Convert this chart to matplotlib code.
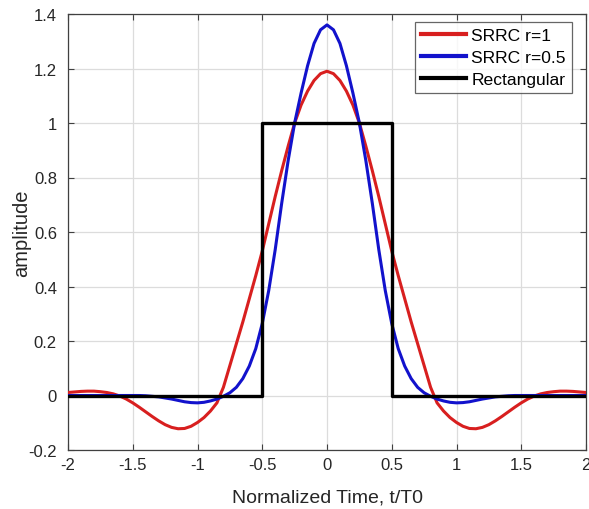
import numpy as np
import matplotlib
matplotlib.use("Agg")
import matplotlib.pyplot as plt
from matplotlib.ticker import FuncFormatter

plt.rcParams['font.family'] = ['Liberation Sans', 'DejaVu Sans']

# time grid, step 0.05 from -2 to 2
t = np.linspace(-2, 2, 81)

srrc_r1 = [
    0.011, 0.013, 0.015, 0.016, 0.016, 0.014, 0.011, 0.006, -0.002, -0.013,
    -0.027, -0.043, -0.060, -0.077, -0.093, -0.107, -0.117, -0.122, -0.121, -0.113,
    -0.099, -0.081, -0.057, -0.027, 0.030, 0.110, 0.190, 0.270, 0.355, 0.440,
    0.530, 0.630, 0.730, 0.825, 0.915, 1.000, 1.066, 1.117, 1.156, 1.181,
    1.190,
    1.181, 1.156, 1.117, 1.066, 1.000, 0.915, 0.825, 0.730, 0.630, 0.530,
    0.440, 0.355, 0.270, 0.190, 0.110, 0.030, -0.027, -0.057, -0.081, -0.099,
    -0.113, -0.121, -0.122, -0.117, -0.107, -0.093, -0.077, -0.060, -0.043, -0.027,
    -0.013, -0.002, 0.006, 0.011, 0.014, 0.016, 0.016, 0.015, 0.013, 0.011,
]

srrc_r05 = [
    0.000, 0.000, 0.000, 0.000, 0.000, 0.000, 0.000, 0.000, 0.000, 0.000,
    0.000, 0.000, -0.001, -0.003, -0.005, -0.009, -0.013, -0.018, -0.023, -0.026,
    -0.027, -0.025, -0.020, -0.013, -0.003, 0.010, 0.030, 0.062, 0.108, 0.172,
    0.264, 0.385, 0.535, 0.705, 0.862, 1.000, 1.110, 1.210, 1.292, 1.342,
    1.360,
    1.342, 1.292, 1.210, 1.110, 1.000, 0.862, 0.705, 0.535, 0.385, 0.264,
    0.172, 0.108, 0.062, 0.030, 0.010, -0.003, -0.013, -0.020, -0.025, -0.027,
    -0.026, -0.023, -0.018, -0.013, -0.009, -0.005, -0.003, -0.001, 0.000, 0.000,
    0.000, 0.000, 0.000, 0.000, 0.000, 0.000, 0.000, 0.000, 0.000, 0.000,
]

rect_t = [-2, -0.5, -0.5, 0.5, 0.5, 2]
rect_v = [0, 0, 1, 1, 0, 0]

labels = ['SRRC r=1', 'SRRC r=0.5', 'Rectangular']
xticks = [-2, -1.5, -1, -0.5, 0, 0.5, 1, 1.5, 2]
yticks = [-0.2, 0, 0.2, 0.4, 0.6, 0.8, 1, 1.2, 1.4]

fig = plt.figure(figsize=(5.89, 5.10), dpi=100)
ax = fig.add_axes([68/589, 59/510, (586-68)/589, (451-15)/510])

ax.plot(t, srrc_r1, color='#d81f1f', lw=2.2, label=labels[0], zorder=3,
        solid_joinstyle='round')
ax.plot(t, srrc_r05, color='#1212cc', lw=2.2, label=labels[1], zorder=4,
        solid_joinstyle='round')
ax.plot(rect_t, rect_v, color='black', lw=2.4, label=labels[2], zorder=5)

ax.set_xlim(-2, 2)
ax.set_ylim(-0.2, 1.4)
ax.set_xticks(xticks)
ax.set_yticks(yticks)
fmt = FuncFormatter(lambda v, p: '%g' % round(v, 2))
ax.xaxis.set_major_formatter(fmt)
ax.yaxis.set_major_formatter(fmt)

ax.grid(True, color='#dcdcdc', lw=0.9)
ax.set_axisbelow(True)
ax.tick_params(direction='in', top=True, right=True, length=4, width=0.8,
               colors='#404040', labelcolor='#262626', labelsize=12)
ax.tick_params(axis='y', pad=8)
ax.tick_params(axis='x', pad=5)
for s in ax.spines.values():
    s.set_color('#404040')
    s.set_linewidth(0.9)

ax.set_xlabel('Normalized Time, t/T0', fontsize=14, color='#262626', labelpad=12)
ax.set_ylabel('amplitude', fontsize=14.5, color='#262626', labelpad=-2)

leg = ax.legend(loc='upper right', bbox_to_anchor=(1 - 14/518, 1 - 8/436),
                fontsize=12.6, frameon=True, fancybox=False, borderpad=0.35,
                handlelength=2.6, handletextpad=0.3, labelspacing=0.38,
                borderaxespad=0)
leg.get_frame().set_edgecolor('#404040')
leg.get_frame().set_linewidth(0.9)
for line in leg.get_lines():
    line.set_linewidth(3)

fig.savefig('out.png', dpi=100)
